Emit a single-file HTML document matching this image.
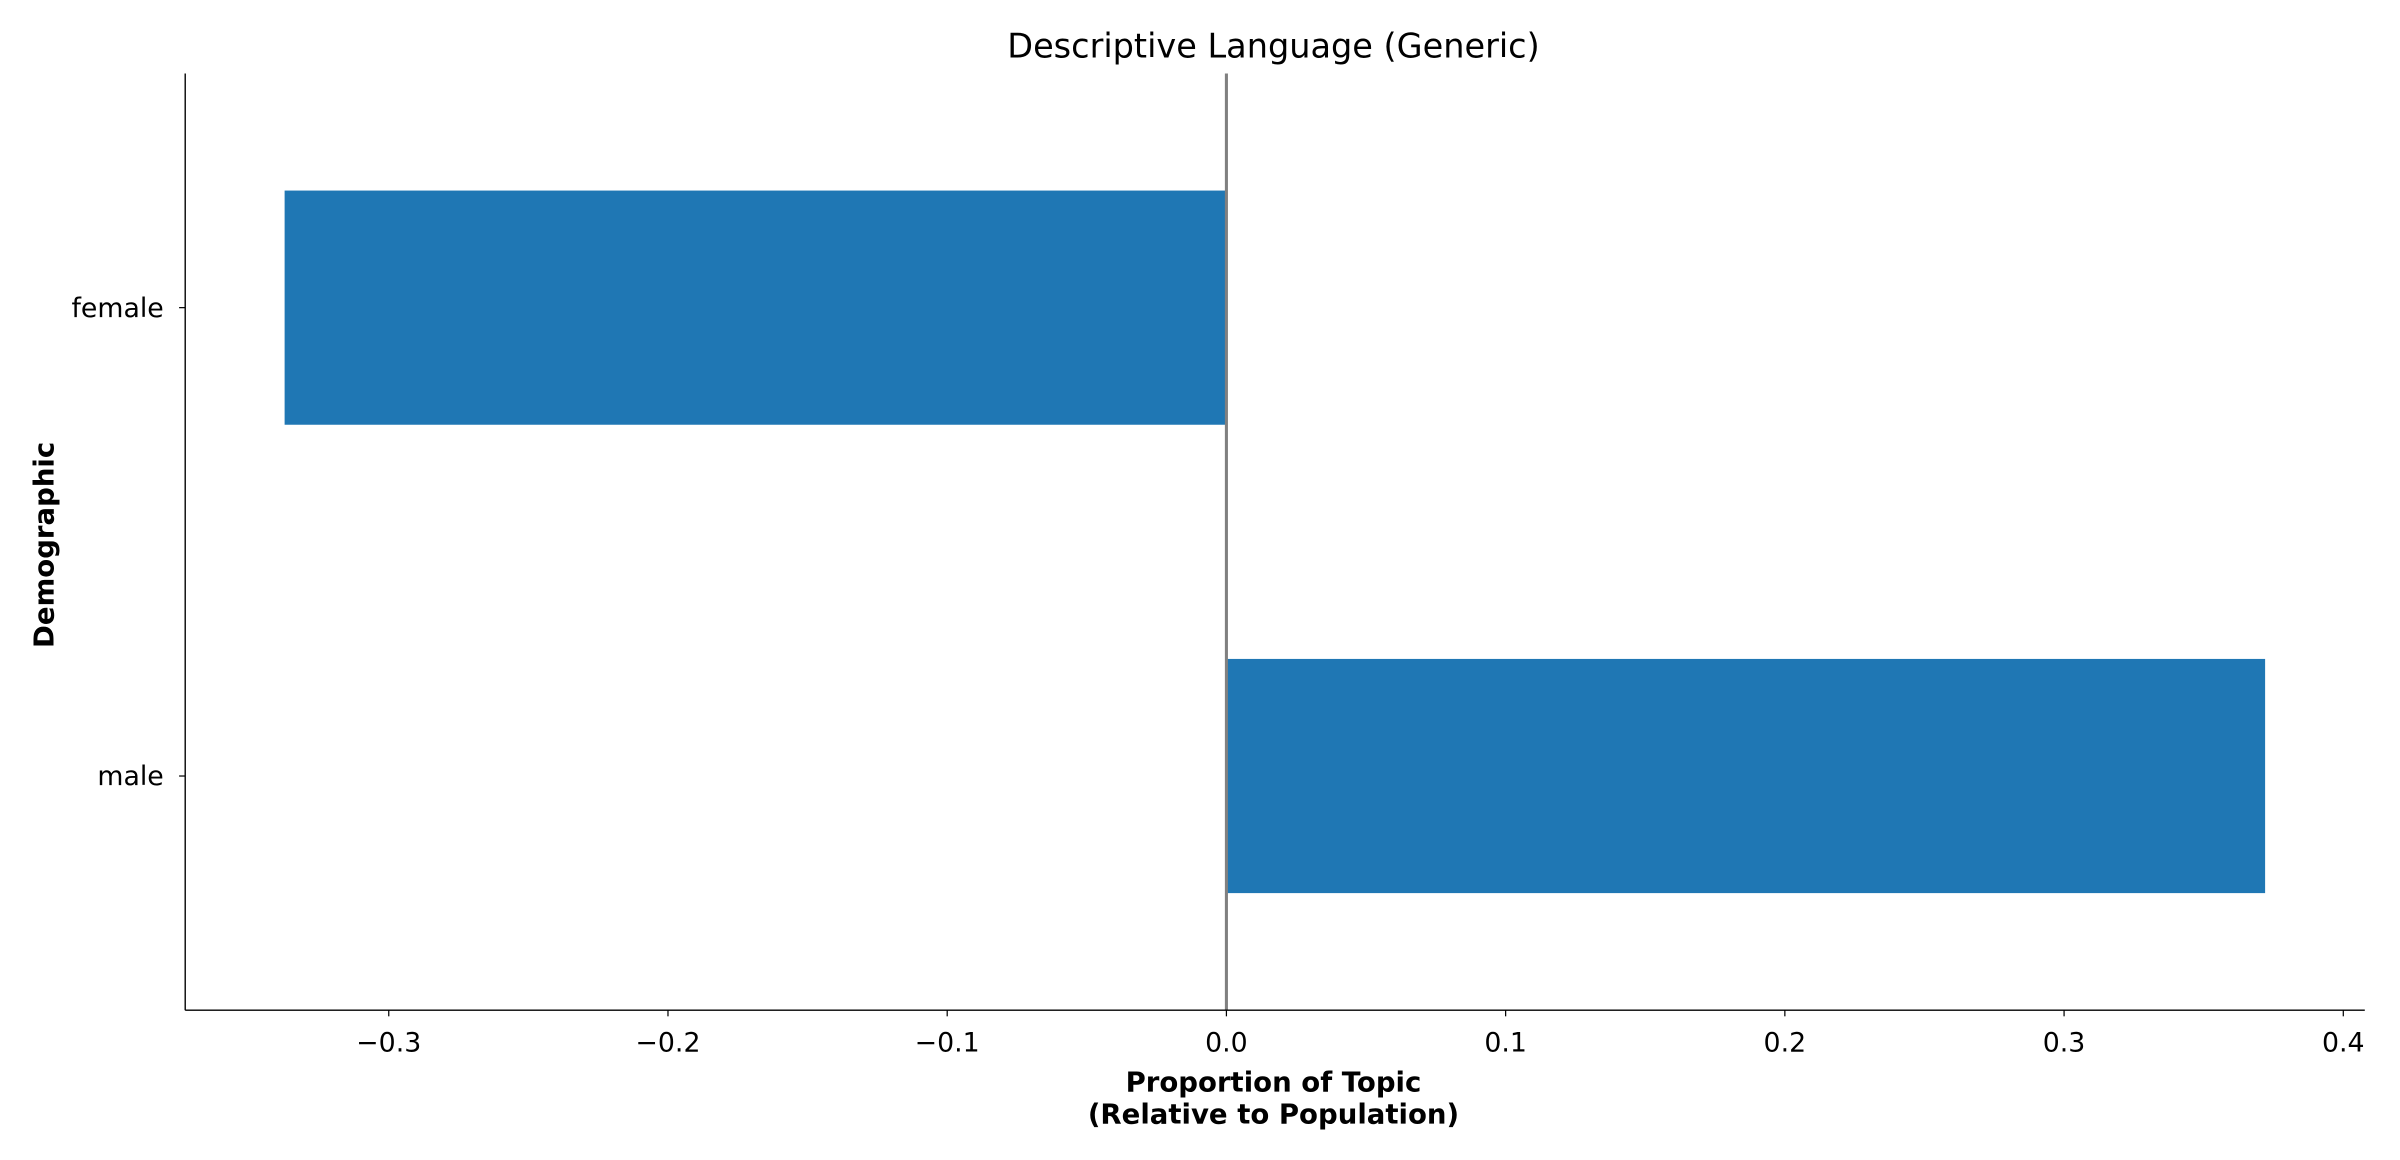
<!DOCTYPE html>
<html><head><meta charset="utf-8"><style>
html,body{margin:0;padding:0;background:#fff;}
svg{display:block;font-family:"DejaVu Sans","Liberation Sans",sans-serif;}
</style></head><body>
<svg id="chart" width="2400" height="1160" viewBox="0 0 1568 757.87" xmlns="http://www.w3.org/2000/svg">
<rect width="1568" height="758" fill="#fff"/>
<text x="832" y="37.5" font-size="21.9" text-anchor="middle">Descriptive Language (Generic)</text>
<g id="plot"></g>
<text x="832" y="713" font-size="18" font-weight="bold" text-anchor="middle">Proportion of Topic</text>
<text x="832" y="734" font-size="18" font-weight="bold" text-anchor="middle">(Relative to Population)</text>
<text transform="translate(35,356) rotate(-90)" font-size="18" font-weight="bold" text-anchor="middle">Demographic</text>
</svg>
<script>
const categories = ["male", "female"];
const values = [0.372, -0.3373];
const xTicks = [-0.3, -0.2, -0.1, 0.0, 0.1, 0.2, 0.3, 0.4];
const xTickLabels = ["\u22120.3","\u22120.2","\u22120.1","0.0","0.1","0.2","0.3","0.4"];

const L=121, R=1545, T=48, B=660;
const xmin=-0.3729, xmax=0.4077;
const x = v => L + (v - xmin) / (xmax - xmin) * (R - L);
const y = i => B - (i + 0.5) / categories.length * (B - T);
const bw = (B - T) / categories.length * 0.5;
const NS="http://www.w3.org/2000/svg";
const g=document.getElementById('plot');
function mk(t,a){const e=document.createElementNS(NS,t);for(const k in a)e.setAttribute(k,a[k]);g.appendChild(e);return e;}

values.forEach((v,i)=>{
  const r=mk('rect',{x:Math.min(x(0),x(v)),y:y(i)-bw/2,width:Math.abs(x(v)-x(0)),height:bw,fill:'#1f77b4'});
  
  
  const tk=mk('line',{x1:L-4,x2:L,y1:y(i),y2:y(i),stroke:'#000','stroke-width':0.8});
  
  
  const t=mk('text',{x:L-14,y:y(i)+6,'font-size':17.5,'text-anchor':'end'});
  t.textContent=categories[i];
  
  
});
xTicks.forEach((v,i)=>{
  const tk=mk('line',{x1:x(v),x2:x(v),y1:B,y2:B+4,stroke:'#000','stroke-width':0.8});
  
  
  const t=mk('text',{x:x(v),y:B+27,'font-size':17.5,'text-anchor':'middle'});
  t.textContent=xTickLabels[i];
  
  
});
const zl=mk('line',{x1:x(0),x2:x(0),y1:T,y2:B,stroke:'#808080','stroke-width':2});


const ls=mk('line',{x1:L,x2:L,y1:T,y2:B,stroke:'#000','stroke-width':0.9});


const bs=mk('line',{x1:L,x2:R,y1:B,y2:B,stroke:'#000','stroke-width':0.9});


</script>
</body></html>
